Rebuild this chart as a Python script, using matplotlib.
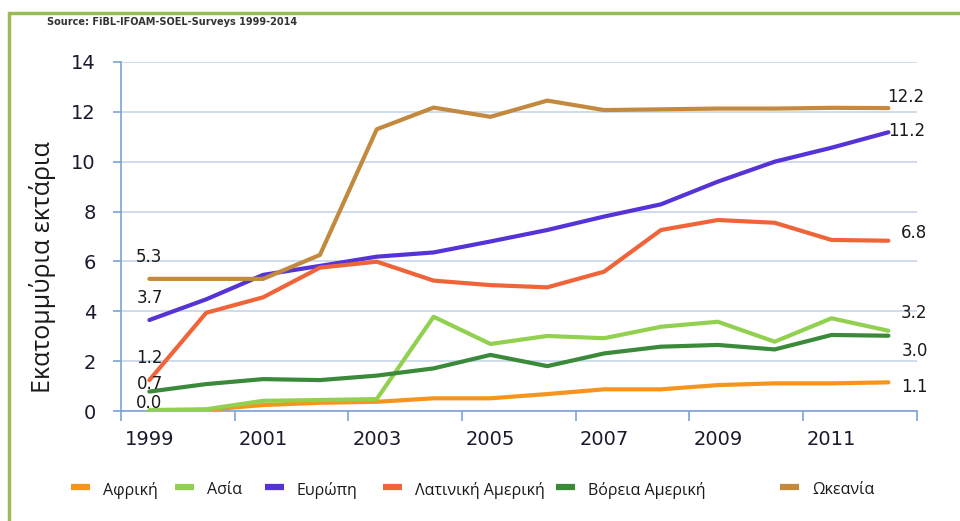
import matplotlib.pyplot as plt
from matplotlib.patches import Rectangle
from matplotlib.lines import Line2D

years = list(range(1999, 2013))
tick_years = ['1999', '2001', '2003', '2005', '2007', '2009', '2011']

africa = [0.0, 0.05, 0.24, 0.33, 0.37, 0.51, 0.51, 0.68, 0.87, 0.87, 1.04, 1.11, 1.11, 1.15]
asia = [0.04, 0.07, 0.41, 0.44, 0.48, 3.78, 2.69, 3.01, 2.92, 3.38, 3.58, 2.78, 3.72, 3.22]
europe = [3.65, 4.48, 5.46, 5.82, 6.19, 6.36, 6.8, 7.26, 7.8, 8.29, 9.2, 10.0, 10.56, 11.18]
latam = [1.24, 3.94, 4.56, 5.75, 5.99, 5.23, 5.05, 4.96, 5.59, 7.26, 7.66, 7.55, 6.86, 6.83]
n_america = [0.78, 1.08, 1.28, 1.24, 1.42, 1.71, 2.25, 1.8, 2.31, 2.58, 2.65, 2.47, 3.05, 3.02]
oceania = [5.3, 5.3, 5.3, 6.26, 11.3, 12.17, 11.8, 12.45, 12.07, 12.1, 12.13, 12.13, 12.16, 12.15]

names = ['Αφρική', 'Ασία', 'Ευρώπη', 'Λατινική Αμερική', 'Βόρεια Αμερική', 'Ωκεανία']
series = [africa, asia, europe, latam, n_america, oceania]
colors = ['#f7941d', '#92d050', '#5533d6', '#f0643a', '#3a8a3a', '#c3893f']

# end labels: (series index, first/last, text, dx px, dy px)
labels = [
    (5, 0, '5.3', 0, 22), (2, 0, '3.7', 0, 22), (3, 0, '1.2', 0, 22),
    (4, 0, '0.7', 1, 8), (0, 0, '0.0', 0, 8),
    (5, -1, '12.2', 17, 11), (2, -1, '11.2', 18, 1), (3, -1, '6.8', 26, 8),
    (1, -1, '3.2', 26, 18), (4, -1, '3.0', 26, -15), (0, -1, '1.1', 26, -5),
]

font = ['Open Sans', 'DejaVu Sans']
plt.rcParams['font.family'] = font

fig = plt.figure(figsize=(9.6, 5.21), dpi=100)
ax = fig.add_axes([0.126, 0.2111, 0.829, 0.670])

x = list(range(len(years)))
for vals, c in zip(series, colors):
    ax.plot(x, vals, color=c, lw=3, solid_capstyle='round', zorder=3)

for si, idx, txt, dx, dy in labels:
    xi = x[idx]
    ax.annotate(txt, (xi, series[si][idx]), xytext=(dx * 0.72, dy * 0.72),
                textcoords='offset points', ha='center', va='center',
                fontsize=12, color='#1a1a1a', family='DejaVu Sans', zorder=5)

ax.set_xlim(-0.5, len(years) - 0.5)
ax.set_ylim(0, 14)
ax.set_yticks(range(0, 15, 2))
ax.set_xticks(x[::2])
ax.set_xticklabels(tick_years)
ax.set_xticks([v - 0.5 for v in x[::2]] + [len(years) - 0.5], minor=True)
ax.tick_params(axis='x', which='major', length=0, pad=14, labelsize=14, labelcolor='#1a1a2e')
ax.tick_params(axis='x', which='minor', length=7, color='#7aa3d6', width=1.2)
ax.tick_params(axis='y', length=6, color='#7aa3d6', width=1.2, labelsize=14,
               labelcolor='#1a1a2e', pad=12)
for lab in ax.get_xticklabels() + ax.get_yticklabels():
    lab.set_family('DejaVu Sans')

ax.grid(axis='y', color='#c6d6eb', lw=1.2, zorder=0)
for s in ['top', 'right']:
    ax.spines[s].set_visible(False)
for s in ['left', 'bottom']:
    ax.spines[s].set_color('#7aa3d6')
    ax.spines[s].set_linewidth(1.2)

fig.text(0.044, 0.488, 'Εκατομμύρια εκτάρια', rotation=90, ha='center', va='center',
         fontsize=18, color='#1a1a1a')

fig.text(0.049, 0.957, 'Source: FiBL-IFOAM-SOEL-Surveys 1999-2014', fontsize=7,
         fontweight='bold', color='#333333', va='center', family='DejaVu Sans')

# manual legend row
handle_x = [71, 175, 265, 383, 556, 780]
for hx, name, c in zip(handle_x, names, colors):
    fy = 1 - 487 / 521
    fig.add_artist(Line2D([hx / 960, (hx + 19) / 960], [fy, fy], color=c, lw=4.5,
                          solid_capstyle='butt', transform=fig.transFigure))
    fig.text((hx + 32) / 960, fy - 0.006, name, fontsize=11.5, va='center', color='#1a1a1a')

fig.add_artist(Rectangle((0.0094, -0.1), 1.2, 1.075, transform=fig.transFigure,
                         fill=False, edgecolor='#9bbb59', lw=2.5))

fig.savefig('out.png', dpi=100)
